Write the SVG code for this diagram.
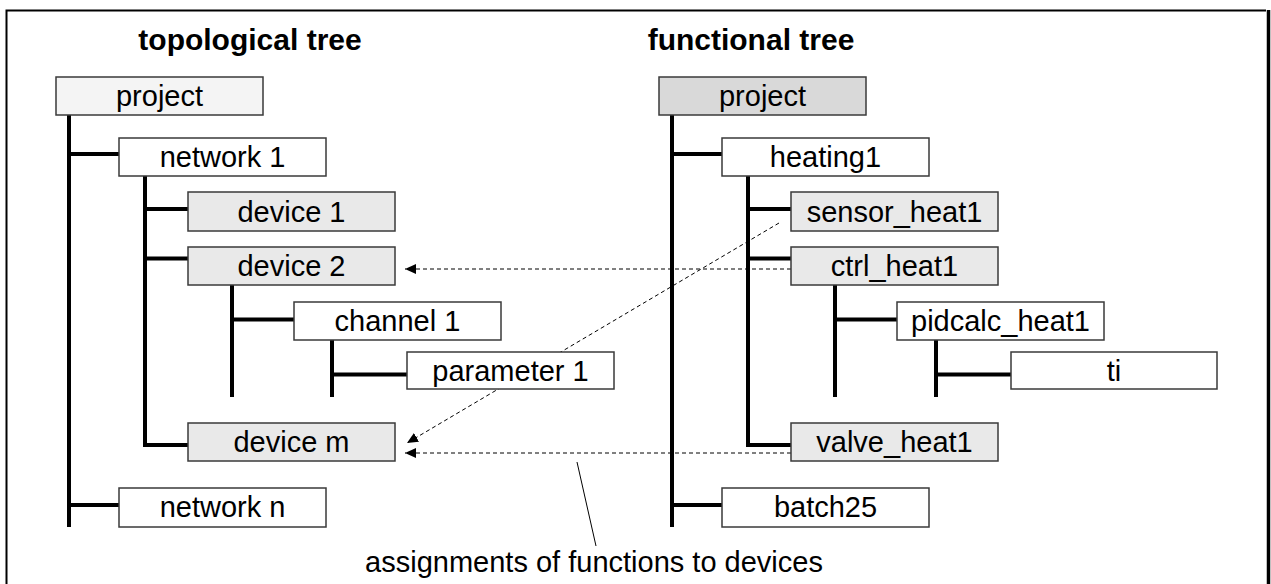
<svg xmlns="http://www.w3.org/2000/svg" width="1271" height="584" viewBox="0 0 1271 584">
<style>
  .box{stroke:#3a3a3a;stroke-width:1.5}
  .w{fill:#ffffff}
  .l{fill:#f4f4f4}
  .g{fill:#e9e9e9}
  .d{fill:#d9d9d9}
  .lbl{font-family:"Liberation Sans",Arial,sans-serif;font-size:29px;fill:#000;text-anchor:middle}
  .ttl{font-family:"Liberation Sans",Arial,sans-serif;font-size:30px;font-weight:bold;fill:#000;text-anchor:middle}
  .tree{fill:none;stroke:#000;stroke-width:4;stroke-linecap:butt;stroke-linejoin:miter}
  .dash{fill:none;stroke:#000;stroke-width:1;stroke-dasharray:4 3}
</style>
<defs>
  <marker id="ah" markerUnits="userSpaceOnUse" markerWidth="12" markerHeight="12" viewBox="0 0 12 12" refX="11" refY="6" orient="auto">
    <path d="M0,1 L11,6 L0,11 Z" fill="#000"/>
  </marker>
</defs>
<rect width="1271" height="584" fill="#fff"/>
<path d="M6.5,600 V10.5 H1266" fill="none" stroke="#000" stroke-width="2"/>
<path d="M1268.5,10 V600" fill="none" stroke="#000" stroke-width="3.5"/>

<text class="ttl" x="250" y="50">topological tree</text>
<text class="ttl" x="751" y="50">functional tree</text>

<g id="connectors">
  <path class="dash" d="M779,223 L407,443" marker-end="url(#ah)"/>
  <path class="dash" d="M791,269 H405" marker-end="url(#ah)"/>
  <path class="dash" d="M791,453 H405" marker-end="url(#ah)"/>
  <path d="M577,462 L596,546" stroke="#000" stroke-width="1" fill="none"/>
  <path class="tree" d="M69,115 V527"/>
  <path class="tree" d="M69,154 H119"/>
  <path class="tree" d="M69,505 H119"/>
  <path class="tree" d="M145,176 V445 H188"/>
  <path class="tree" d="M145,209 H188"/>
  <path class="tree" d="M145,258.5 H188"/>
  <path class="tree" d="M232,285 V397"/>
  <path class="tree" d="M232,319.5 H294"/>
  <path class="tree" d="M332,340 V397"/>
  <path class="tree" d="M332,374.5 H407"/>
  <path class="tree" d="M672,115 V527"/>
  <path class="tree" d="M672,154 H722"/>
  <path class="tree" d="M672,505 H722"/>
  <path class="tree" d="M748,176 V445 H791"/>
  <path class="tree" d="M748,209 H791"/>
  <path class="tree" d="M748,258.5 H791"/>
  <path class="tree" d="M835,285 V397"/>
  <path class="tree" d="M835,319.5 H897"/>
  <path class="tree" d="M936,340 V397"/>
  <path class="tree" d="M936,374.5 H1011"/>
</g>

<g id="t-project"><rect class="box l" x="56" y="77" width="207" height="38"/><text class="lbl" x="159.5" y="106">project</text></g>
<g id="t-network1"><rect class="box w" x="119" y="138" width="207" height="38"/><text class="lbl" x="222.5" y="167">network 1</text></g>
<g id="t-device1"><rect class="box g" x="188" y="192" width="207" height="39"/><text class="lbl" x="291.5" y="222">device 1</text></g>
<g id="t-device2"><rect class="box g" x="188" y="247" width="207" height="38"/><text class="lbl" x="291.5" y="276">device 2</text></g>
<g id="t-channel1"><rect class="box w" x="294" y="302" width="207" height="38"/><text class="lbl" x="397.5" y="331">channel 1</text></g>
<g id="t-parameter1"><rect class="box w" x="407" y="352" width="207" height="37"/><text class="lbl" x="510.5" y="381">parameter 1</text></g>
<g id="t-devicem"><rect class="box g" x="188" y="423" width="207" height="38"/><text class="lbl" x="291.5" y="452">device m</text></g>
<g id="t-networkn"><rect class="box w" x="119" y="488" width="207" height="39"/><text class="lbl" x="222.5" y="517">network n</text></g>

<g id="f-project"><rect class="box d" x="659" y="77" width="207" height="38"/><text class="lbl" x="762.5" y="106">project</text></g>
<g id="f-heating1"><rect class="box w" x="722" y="138" width="207" height="38"/><text class="lbl" x="825.5" y="167">heating1</text></g>
<g id="f-sensor"><rect class="box g" x="791" y="192" width="207" height="39"/><text class="lbl" x="894.5" y="222">sensor_heat1</text></g>
<g id="f-ctrl"><rect class="box g" x="791" y="247" width="207" height="38"/><text class="lbl" x="894.5" y="276">ctrl_heat1</text></g>
<g id="f-pidcalc"><rect class="box w" x="897" y="302" width="207" height="38"/><text class="lbl" x="1000.5" y="331">pidcalc_heat1</text></g>
<g id="f-ti"><rect class="box w" x="1011" y="352" width="206" height="37"/><text class="lbl" x="1114" y="381">ti</text></g>
<g id="f-valve"><rect class="box g" x="791" y="423" width="207" height="38"/><text class="lbl" x="894.5" y="452">valve_heat1</text></g>
<g id="f-batch25"><rect class="box w" x="722" y="488" width="207" height="39"/><text class="lbl" x="825.5" y="517">batch25</text></g>

<text class="lbl" x="594" y="572">assignments of functions to devices</text>
</svg>
